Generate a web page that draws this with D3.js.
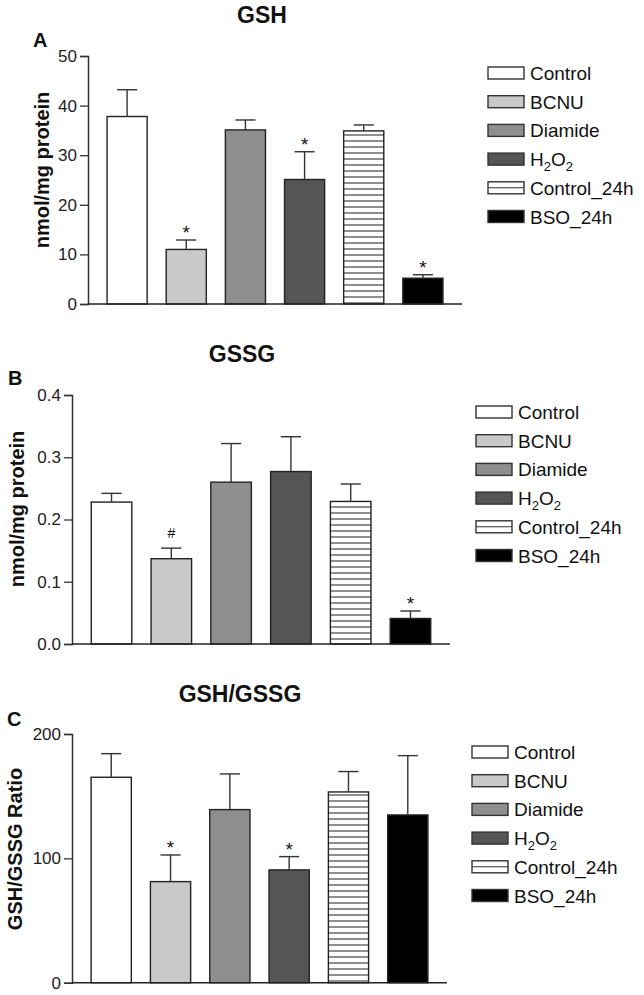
<!DOCTYPE html>
<html>
<head>
<meta charset="utf-8">
<script src="https://cdn.jsdelivr.net/npm/d3@7/dist/d3.min.js"></script>
<style>
  html, body { margin: 0; padding: 0; background: #fff; }
  svg { display: block; font-family: "Liberation Sans", Arial, Helvetica, sans-serif; }
</style>
</head>
<body>
<svg id="chart" width="644" height="995"></svg>
<script>
// ---- Data ----
const categories = ["Control", "BCNU", "Diamide", "H2O2", "Control_24h", "BSO_24h"];

const gshMean = [37.8, 11.0, 35.1, 25.1, 34.9, 5.2];
const gshSem  = [5.4, 1.9, 2.0, 5.6, 1.2, 0.7];
const gshMarks = ["", "*", "", "*", "", "*"];
const gshTicks = [0, 10, 20, 30, 40, 50];

const gssgMean = [0.228, 0.137, 0.260, 0.277, 0.229, 0.041];
const gssgSem  = [0.014, 0.017, 0.062, 0.056, 0.028, 0.012];
const gssgMarks = ["", "#", "", "", "", "*"];
const gssgTicks = [0, 0.1, 0.2, 0.3, 0.4];

const ratioMean = [165.2, 81.3, 139.2, 90.7, 153.4, 134.9];
const ratioSem  = [19.0, 21.4, 28.7, 10.7, 16.4, 47.7];
const ratioMarks = ["", "*", "", "*", "", ""];
const ratioTicks = [0, 100, 200];

// ---- Styles ----
const fills = ["#ffffff", "#c9c9c9", "#8e8e8e", "#555555", "url(#stripes)", "#000000"];
const strokeCol = "#222";

const svg = d3.select("#chart");
const defs = svg.append("defs");
const pat = defs.append("pattern")
  .attr("id", "stripes").attr("patternUnits", "userSpaceOnUse")
  .attr("width", 8).attr("height", 6);
pat.append("rect").attr("width", 8).attr("height", 6).attr("fill", "#fff");
pat.append("line").attr("x1", 0).attr("x2", 8).attr("y1", 3).attr("y2", 3)
  .attr("stroke", "#333").attr("stroke-width", 1.1);

const panels = [
  { mean: gshMean, sem: gshSem, marks: gshMarks, ticks: gshTicks, max: 50, fmt: d3.format("d"),
    title: "GSH", titleX: 262, titleY: 23, letter: "A", letterX: 33, letterY: 47,
    ylabel: "nmol/mg protein", ylabelX: 42, ylabelY: 170,
    x0: 88, x1: 462, y0: 304, y1: 56,
    legX: 488, legY: 73, legTextX: 530 },
  { mean: gssgMean, sem: gssgSem, marks: gssgMarks, ticks: gssgTicks, max: 0.4, fmt: d3.format(".1f"),
    title: "GSSG", titleX: 242, titleY: 362, letter: "B", letterX: 8, letterY: 385,
    ylabel: "nmol/mg protein", ylabelX: 17, ylabelY: 509,
    x0: 72, x1: 450, y0: 644, y1: 395,
    legX: 476, legY: 412, legTextX: 518 },
  { mean: ratioMean, sem: ratioSem, marks: ratioMarks, ticks: ratioTicks, max: 200, fmt: d3.format("d"),
    title: "GSH/GSSG", titleX: 240, titleY: 702, letter: "C", letterX: 7, letterY: 726,
    ylabel: "GSH/GSSG Ratio", ylabelX: 15, ylabelY: 849,
    x0: 72, x1: 447, y0: 982.7, y1: 734,
    legX: 472, legY: 752, legTextX: 514 }
];

panels.forEach(p => {
  const g = svg.append("g");
  const x = d3.scaleBand().domain(categories).range([p.x0, p.x1]).padding(0.322);
  const y = d3.scaleLinear().domain([0, p.max]).range([p.y0, p.y1]);

  // title & letter
  g.append("text").attr("x", p.titleX).attr("y", p.titleY).attr("text-anchor", "middle")
    .attr("font-size", 23).attr("font-weight", "bold").attr("fill", "#111").text(p.title);
  g.append("text").attr("x", p.letterX).attr("y", p.letterY)
    .attr("font-size", 20).attr("font-weight", "bold").attr("fill", "#111").text(p.letter);

  // y label
  g.append("text")
    .attr("transform", `translate(${p.ylabelX + 7},${p.ylabelY}) rotate(-90)`)
    .attr("text-anchor", "middle").attr("font-size", 20).attr("font-weight", "bold")
    .attr("fill", "#111").text(p.ylabel);

  // bars
  const cats = categories.map((c, i) => ({ c, i, m: p.mean[i], s: p.sem[i], mk: p.marks[i] }));
  g.selectAll("rect.bar").data(cats).join("rect")
    .attr("class", "bar")
    .attr("x", d => x(d.c)).attr("width", x.bandwidth())
    .attr("y", d => y(d.m)).attr("height", d => y(0) - y(d.m))
    .attr("fill", d => fills[d.i]).attr("stroke", strokeCol).attr("stroke-width", 1.4);

  // error bars (upper only)
  const bw = x.bandwidth();
  g.selectAll("line.err").data(cats).join("line")
    .attr("class", "err")
    .attr("x1", d => x(d.c) + bw / 2).attr("x2", d => x(d.c) + bw / 2)
    .attr("y1", d => y(d.m)).attr("y2", d => y(d.m + d.s))
    .attr("stroke", "#333").attr("stroke-width", 1.4);
  g.selectAll("line.cap").data(cats).join("line")
    .attr("class", "cap")
    .attr("x1", d => x(d.c) + bw / 4).attr("x2", d => x(d.c) + bw * 3 / 4)
    .attr("y1", d => y(d.m + d.s)).attr("y2", d => y(d.m + d.s))
    .attr("stroke", "#333").attr("stroke-width", 1.4);

  // significance marks
  g.selectAll("text.mark").data(cats.filter(d => d.mk)).join("text")
    .attr("class", "mark")
    .attr("x", d => x(d.c) + bw / 2)
    .attr("y", d => y(d.m + d.s) - (d.mk === "#" ? 10 : 1))
    .attr("text-anchor", "middle")
    .attr("font-size", d => d.mk === "#" ? 14 : 19)
    .attr("fill", "#111").text(d => d.mk);

  // axes
  const yAxis = d3.axisLeft(y).tickValues(p.ticks).tickFormat(p.fmt).tickSize(8).tickPadding(3);
  const ya = g.append("g").attr("transform", `translate(${p.x0},0)`).call(yAxis);
  ya.select(".domain").attr("stroke", "#333").attr("stroke-width", 1.5);
  ya.selectAll(".tick line").attr("stroke", "#333").attr("stroke-width", 1.3);
  ya.selectAll(".tick text").attr("font-size", 17).attr("fill", "#222")
    .attr("font-family", "'Liberation Sans', Arial, sans-serif");

  g.append("line").attr("x1", p.x0).attr("x2", p.x1).attr("y1", y(0)).attr("y2", y(0))
    .attr("stroke", "#222").attr("stroke-width", 1.6);

  // legend
  const leg = g.append("g");
  const rowH = 28.7;
  categories.forEach((c, i) => {
    const cy = p.legY + i * rowH;
    leg.append("rect").attr("x", p.legX).attr("y", cy - 6).attr("width", 36).attr("height", 12)
      .attr("fill", i === 4 ? "#fff" : fills[i]).attr("stroke", "#333").attr("stroke-width", 1.4);
    if (i === 4) {
      leg.append("line").attr("x1", p.legX).attr("x2", p.legX + 36).attr("y1", cy).attr("y2", cy)
        .attr("stroke", "#333").attr("stroke-width", 1.1);
    }
    const t = leg.append("text").attr("x", p.legTextX).attr("y", cy + 7)
      .attr("font-size", 19).attr("fill", "#111");
    if (c === "H2O2") {
      t.append("tspan").text("H");
      t.append("tspan").attr("font-size", 13).attr("dy", 5).text("2");
      t.append("tspan").attr("dy", -5).text("O");
      t.append("tspan").attr("font-size", 13).attr("dy", 5).text("2");
    } else {
      t.text(c);
    }
  });
});
</script>
</body>
</html>
